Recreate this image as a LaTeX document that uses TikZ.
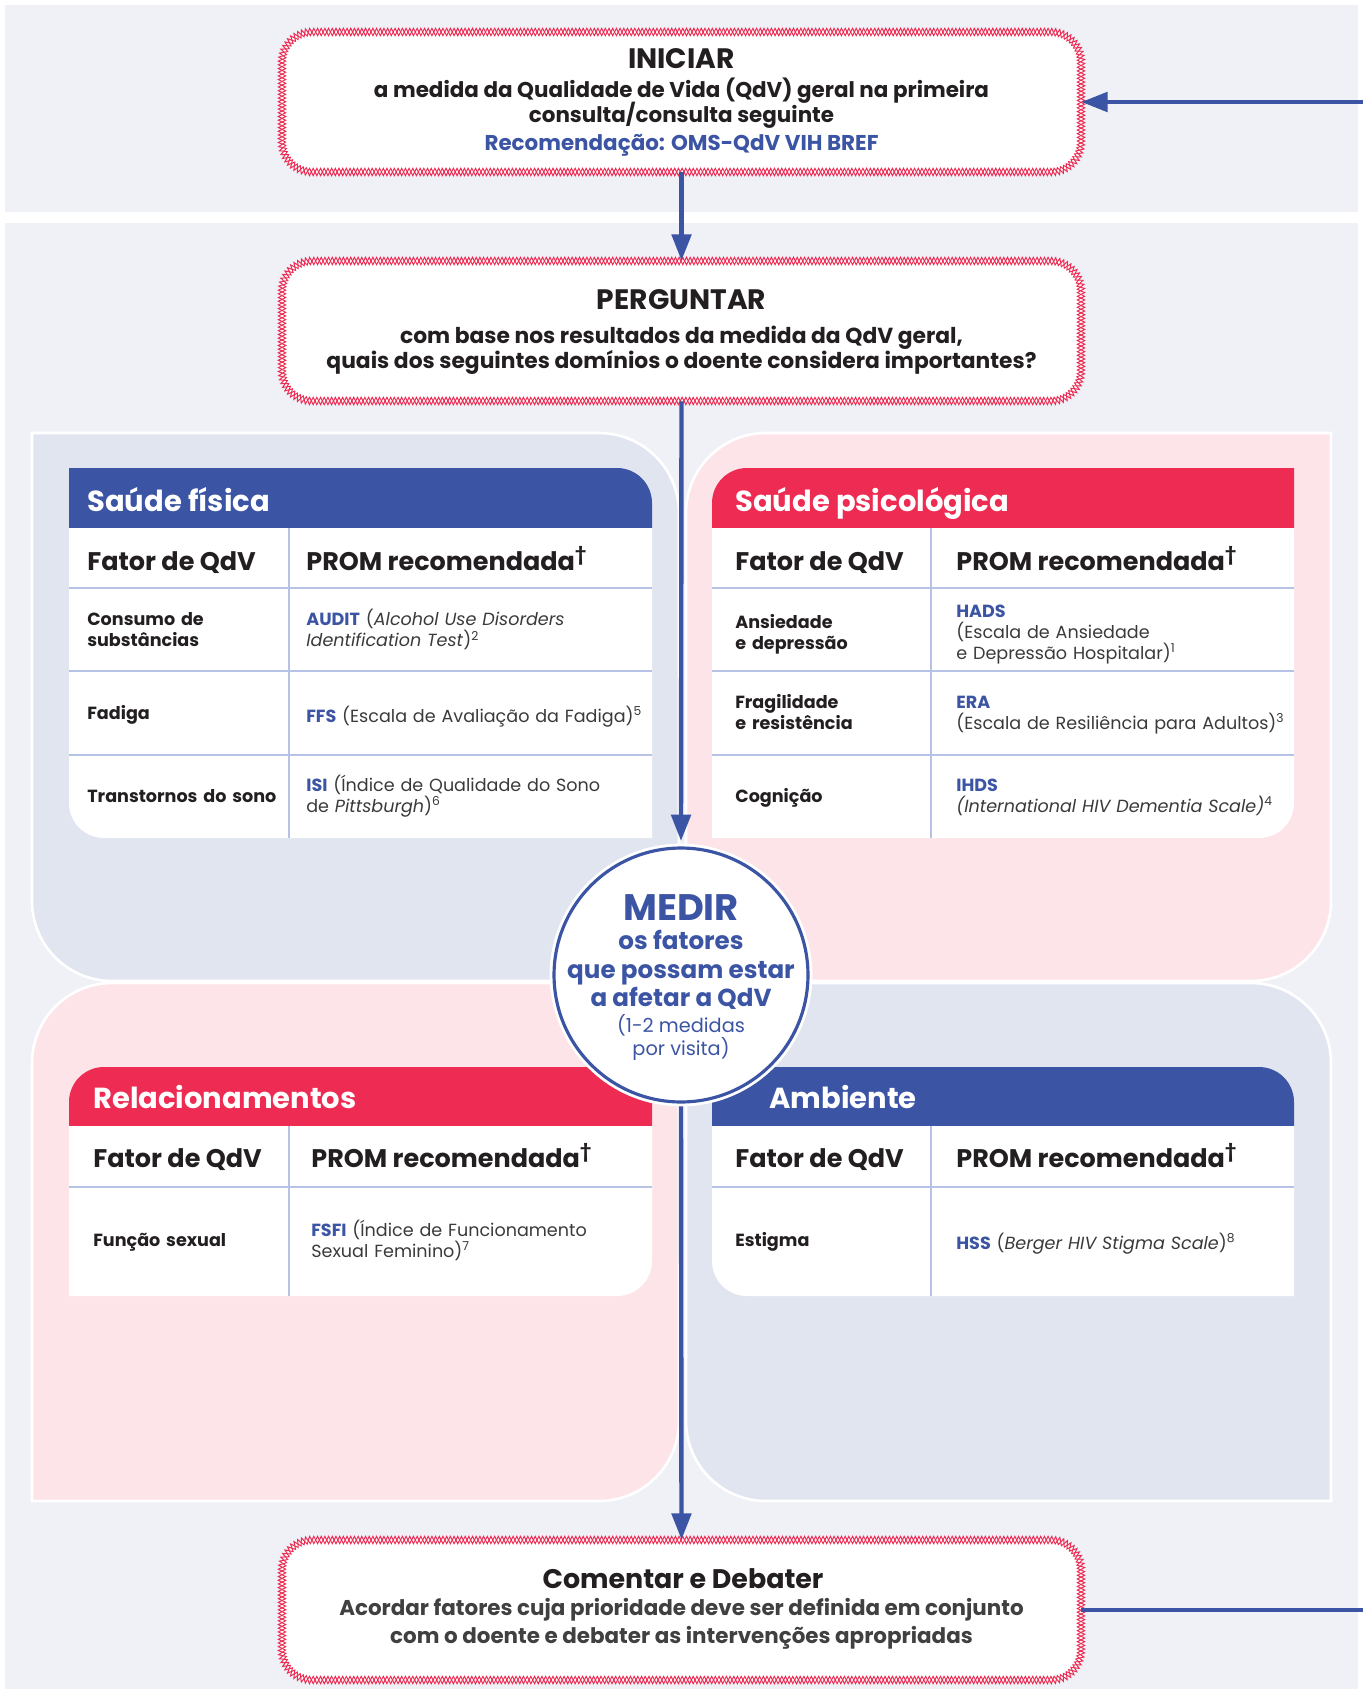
\documentclass[tikz,border=0pt]{standalone}
\usepackage{fontspec}
\setmainfont{Poppins}
\usetikzlibrary{arrows.meta,decorations.pathmorphing}
\definecolor{panelBg}{HTML}{F0F1F7}
\definecolor{quadBlue}{HTML}{E1E5F0}
\definecolor{quadPink}{HTML}{FCE4E8}
\definecolor{qblue}{HTML}{3B54A4}
\definecolor{qred}{HTML}{EE2B52}
\definecolor{gridBlue}{HTML}{B7C3E6}
\definecolor{qtxt}{HTML}{231F20}
\definecolor{qtxtb}{HTML}{3A3A3C}
\definecolor{qgray}{HTML}{404041}
\newcommand\setfs[2]{\fontsize{#1}{#2}\selectfont}
% zigzag frame: x0 y0 x1 y1 (pixel units), radius 30
\newcommand\zzframe[4]{%
  \foreach \zzopt in {zzA,zzB}{%
    \draw[\zzopt] ({#1+30},{#2}) -- ({#3-30},{#2}) arc[start angle=270,end angle=360,radius=30]
      -- ({#3},{#4-30}) arc[start angle=0,end angle=90,radius=30]
      -- ({#1+30},{#4}) arc[start angle=90,end angle=180,radius=30]
      -- ({#1},{#2+30}) arc[start angle=180,end angle=270,radius=30] -- cycle;
  }%
}
\begin{document}
\begin{tikzpicture}[x=0.02cm,y=-0.02cm,
  zzbox/.style={rectangle, rounded corners=17pt, fill=white, minimum width=15.98cm, minimum height=2.8cm, inner sep=0pt},
  zzA/.style={draw=qred, line width=0.55pt, decorate, decoration={zigzag, segment length=4.2pt, amplitude=2.1pt}},
  zzB/.style={draw=qred, line width=0.55pt, decorate, decoration={zigzag, segment length=4.2pt, amplitude=2.1pt, mirror}},
  flow/.style={draw=qblue, line width=2.5pt, -{Triangle[width=11pt,length=15pt]}},
  flowline/.style={draw=qblue, line width=2.5pt},
  panel/.style={draw=white, line width=1.5pt},
  grid/.style={draw=gridBlue, line width=0.7pt},
  btitle/.style={anchor=base, inner sep=0pt, text=qtxt, font=\setfs{16}{19}\bfseries},
  bline/.style={anchor=base, inner sep=0pt, text=qtxt, font=\setfs{12.2}{14}\bfseries},
  tabtitle/.style={anchor=base west, inner sep=0pt, text=white, font=\setfs{16.5}{20}\bfseries},
  colhead/.style={anchor=base west, inner sep=0pt, text=qtxt, font=\setfs{14.5}{17}\bfseries},
  rowlab/.style={anchor=base west, inner sep=0pt, text=qtxt, font=\setfs{10}{12}\bfseries, align=left, text width=4cm},
  prom/.style={anchor=base west, inner sep=0pt, text=qtxtb, font=\setfs{10}{12}, align=left, text width=8cm},
  medir/.style={anchor=base, inner sep=0pt, text=qblue, font=\setfs{21}{24}\bfseries},
  medirb/.style={anchor=base, inner sep=0pt, text=qblue, font=\setfs{14}{17}\bfseries},
  medirs/.style={anchor=base, inner sep=0pt, text=qblue, font=\setfs{11}{13}}
]
\useasboundingbox (0,0) rectangle (1363,1689);
% backgrounds
\fill[panelBg] (5,5) rectangle (1358,212);
\fill[panelBg] (5,223) rectangle (1358,1689);

% quadrant panels
\path[panel, fill=quadBlue] (32,433) -- (599,433) arc[start angle=270,end angle=360,radius=80] -- (679,981) -- (112,981) arc[start angle=90,end angle=180,radius=80] -- cycle;
\path[panel, fill=quadPink] (766,433) -- (1331,433) -- (1331,901) arc[start angle=0,end angle=90,radius=80] -- (686,981) -- (686,513) arc[start angle=180,end angle=270,radius=80] -- cycle;
\path[panel, fill=quadPink] (112,983) -- (679,983) -- (679,1421) arc[start angle=0,end angle=90,radius=80] -- (32,1501) -- (32,1063) arc[start angle=180,end angle=270,radius=80] -- cycle;
\path[panel, fill=quadBlue] (686,983) -- (1251,983) arc[start angle=270,end angle=360,radius=80] -- (1331,1501) -- (766,1501) arc[start angle=90,end angle=180,radius=80] -- cycle;

% table: Saude fisica
\fill[qblue] (69,468) -- (617,468) arc[start angle=270,end angle=360,radius=35] -- (652,528) -- (69,528) -- cycle;
\fill[white] (69,528) -- (652,528) -- (652,838) -- (104,838) arc[start angle=90,end angle=180,radius=35] -- cycle;
\draw[grid] (69,588) -- (652,588) (69,671) -- (652,671) (69,755) -- (652,755) (289,528) -- (289,838);
% table: Saude psicologica
\fill[qred] (747,468) -- (1294,468) -- (1294,528) -- (712,528) -- (712,503) arc[start angle=180,end angle=270,radius=35] -- cycle;
\fill[white] (712,528) -- (1294,528) -- (1294,803) arc[start angle=0,end angle=90,radius=35] -- (712,838) -- cycle;
\draw[grid] (712,588) -- (1294,588) (712,671) -- (1294,671) (712,755) -- (1294,755) (931,528) -- (931,838);
% table: Relacionamentos
\fill[qred] (104,1067) -- (652,1067) -- (652,1126) -- (69,1126) -- (69,1102) arc[start angle=180,end angle=270,radius=35] -- cycle;
\fill[white] (69,1126) -- (652,1126) -- (652,1261) arc[start angle=0,end angle=90,radius=35] -- (69,1296) -- cycle;
\draw[grid] (69,1187) -- (652,1187) (289,1126) -- (289,1296);
% table: Ambiente
\fill[qblue] (712,1067) -- (1259,1067) arc[start angle=270,end angle=360,radius=35] -- (1294,1126) -- (712,1126) -- cycle;
\fill[white] (712,1126) -- (1294,1126) -- (1294,1296) -- (747,1296) arc[start angle=90,end angle=180,radius=35] -- cycle;
\draw[grid] (712,1187) -- (1294,1187) (931,1126) -- (931,1296);

% table texts: Saude fisica
\node[tabtitle] (t1title) at (87,511) {Saúde física};
\node[colhead] (t1c1) at (87,570) {Fator de QdV};
\node[colhead] (t1c2) at (306,570) {PROM recomendada\textsuperscript{†}};
\node[rowlab] (t1r1a) at (87,625.5) {Consumo de\\substâncias};
\node[prom] (t1r1b) at (306,625.5) {\textcolor{qblue}{\bfseries AUDIT} (\textit{Alcohol Use Disorders}\\\textit{Identification Test})\textsuperscript{2}};
\node[rowlab] (t1r2a) at (87,719) {Fadiga};
\node[prom] (t1r2b) at (306,722) {\textcolor{qblue}{\bfseries FFS} (Escala de Avaliação da Fadiga)\textsuperscript{5}};
\node[rowlab] (t1r3a) at (87,802) {Transtornos do sono};
\node[prom] (t1r3b) at (306,791) {\textcolor{qblue}{\bfseries ISI} (Índice de Qualidade do Sono\\de \textit{Pittsburgh})\textsuperscript{6}};

% table texts: Saude psicologica
\node[tabtitle] (t2title) at (735,511) {Saúde psicológica};
\node[colhead] (t2c1) at (735,570) {Fator de QdV};
\node[colhead] (t2c2) at (956,570) {PROM recomendada\textsuperscript{†}};
\node[rowlab] (t2r1a) at (735,628) {Ansiedade\\e depressão};
\node[prom] (t2r1b) at (956,617) {\textcolor{qblue}{\bfseries HADS}\\(Escala de Ansiedade\\e Depressão Hospitalar)\textsuperscript{1}};
\node[rowlab] (t2r2a) at (735,708) {Fragilidade\\e resistência};
\node[prom] (t2r2b) at (956,708) {\textcolor{qblue}{\bfseries ERA}\\(Escala de Resiliência para Adultos)\textsuperscript{3}};
\node[rowlab] (t2r3a) at (735,802) {Cognição};
\node[prom] (t2r3b) at (956,791) {\textcolor{qblue}{\bfseries IHDS}\\\textit{(International HIV Dementia Scale)}\textsuperscript{4}};

% table texts: Relacionamentos
\node[tabtitle] (t3title) at (93,1108) {Relacionamentos};
\node[colhead] (t3c1) at (93,1167) {Fator de QdV};
\node[colhead] (t3c2) at (311,1167) {PROM recomendada\textsuperscript{†}};
\node[rowlab] (t3r1a) at (93,1246) {Função sexual};
\node[prom] (t3r1b) at (311,1236) {\textcolor{qblue}{\bfseries FSFI} (Índice de Funcionamento\\Sexual Feminino)\textsuperscript{7}};

% table texts: Ambiente
\node[tabtitle] (t4title) at (769,1108) {Ambiente};
\node[colhead] (t4c1) at (735,1167) {Fator de QdV};
\node[colhead] (t4c2) at (956,1167) {PROM recomendada\textsuperscript{†}};
\node[rowlab] (t4r1a) at (735,1246) {Estigma};
\node[prom] (t4r1b) at (956,1249) {\textcolor{qblue}{\bfseries HSS} (\textit{Berger HIV Stigma Scale})\textsuperscript{8}};

% flow boxes
\node[zzbox] (iniciar) at (681.5,102) {};
\node[zzbox] (perguntar) at (681.5,331) {};
\node[zzbox] (comentar) at (681.5,1610) {};
\zzframe{282}{32}{1081}{172}
\zzframe{282}{261}{1081}{401}
\zzframe{282}{1540}{1081}{1680}

\node[btitle] (iniciarT) at (681.5,69) {INICIAR};
\node[bline] (iniciarL1) at (681.5,98) {a medida da Qualidade de Vida (QdV) geral na primeira};
\node[bline] (iniciarL2) at (681.5,123) {consulta/consulta seguinte};
\node[bline, text=qblue] (iniciarL3) at (681.5,150.5) {Recomendação: OMS-QdV VIH BREF};

\node[btitle] (perguntarT) at (681.5,310) {PERGUNTAR};
\node[bline, font=\setfs{12.4}{14}\bfseries] (perguntarL1) at (681.5,343) {com base nos resultados da medida da QdV geral,};
\node[bline, font=\setfs{12.4}{14}\bfseries] (perguntarL2) at (681.5,368) {quais dos seguintes domínios o doente considera importantes?};

\node[btitle, font=\setfs{15.3}{18}\bfseries] (comentarT) at (683,1588) {Comentar e Debater};
\node[bline, text=qgray] (comentarL1) at (681.5,1615) {Acordar fatores cuja prioridade deve ser definida em conjunto};
\node[bline, text=qgray] (comentarL2) at (681.5,1643) {com o doente e debater as intervenções apropriadas};

% connectors
\coordinate (loopIn) at (1363,102);
\coordinate (loopOut) at (1363,1610);
\draw[flow] (iniciar.south) -- (perguntar.north);
\draw[flow] (perguntar.south) -- ([yshift=4pt]681,848);
\draw[flow] (681,1101) -- (comentar.north);
\draw[flow] (loopIn) -- (iniciar.east);
\draw[flowline] (comentar.east) -- (loopOut);

% MEDIR circle
\node[circle, fill=white, draw=qblue, line width=1.8pt, minimum size=5.08cm, inner sep=0pt,
  preaction={draw=white, line width=5pt}] (medir) at (681,975) {};
\node[medir] (medirT) at (681,920) {MEDIR};
\node[medirb] (medirL1) at (681,949) {os fatores};
\node[medirb] (medirL2) at (681,978) {que possam estar};
\node[medirb] (medirL3) at (681,1006) {a afetar a QdV};
\node[medirs] (medirL4) at (681,1032) {(1-2 medidas};
\node[medirs] (medirL5) at (681,1055) {por visita)};
\end{tikzpicture}
\end{document}
